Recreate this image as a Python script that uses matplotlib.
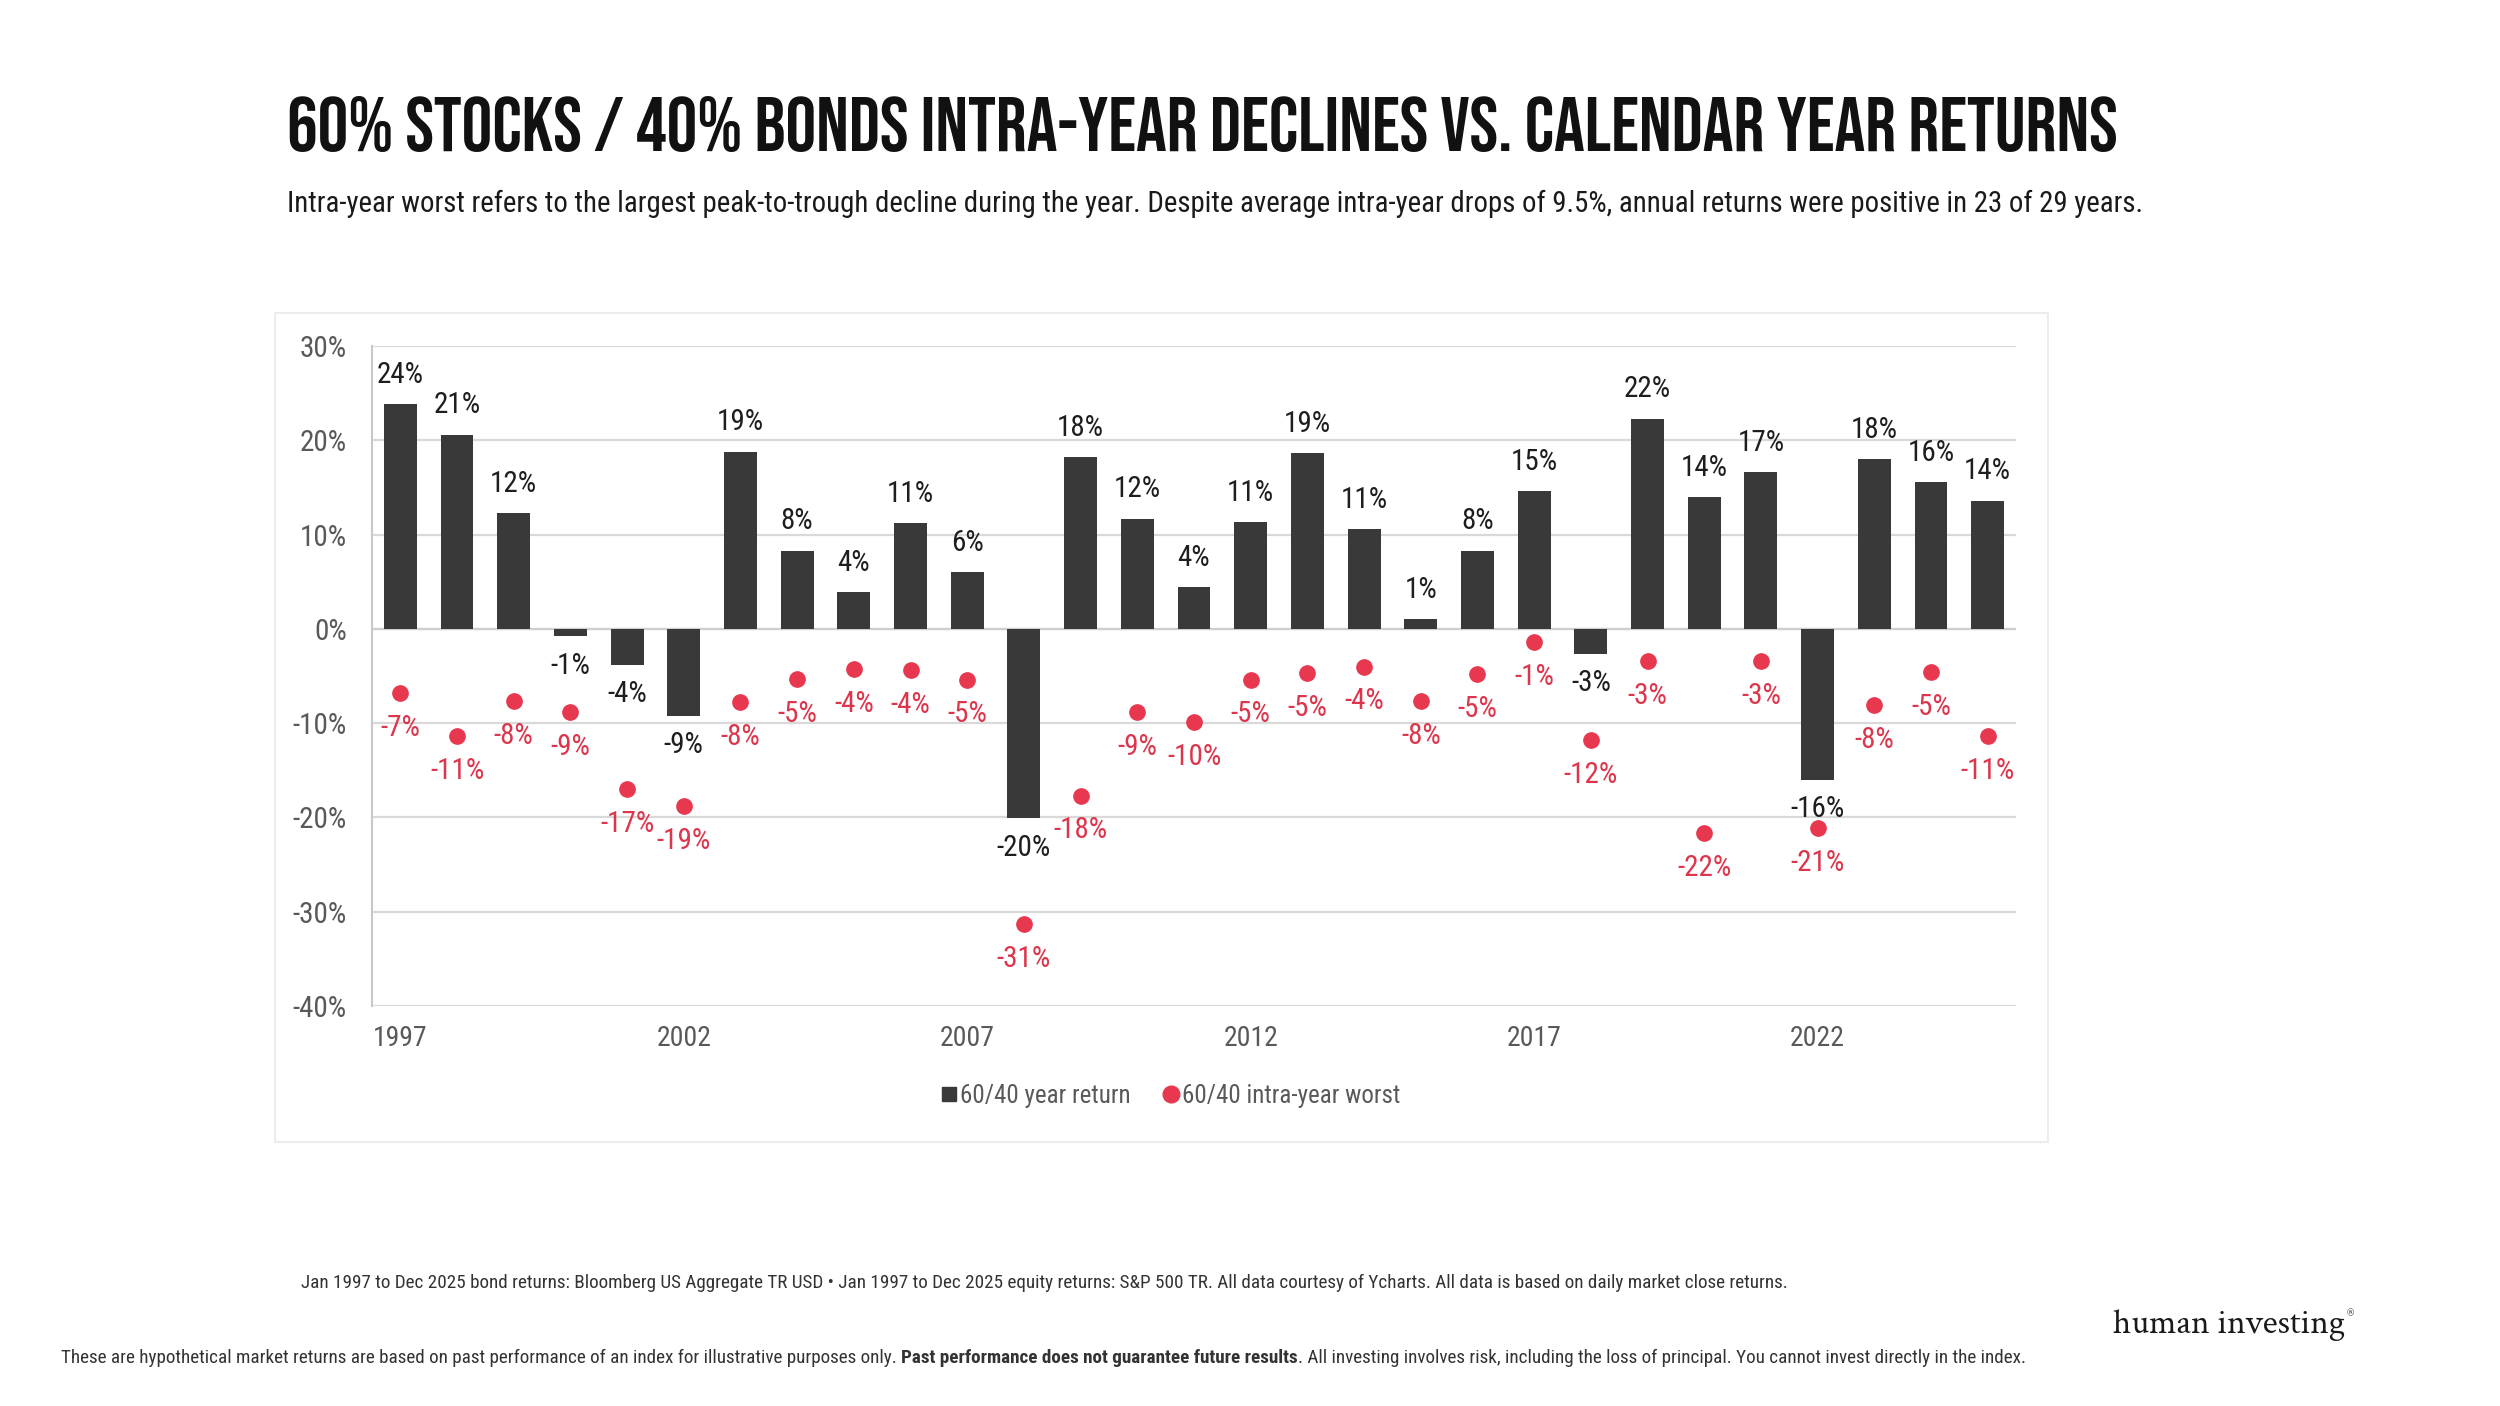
import matplotlib
matplotlib.use('Agg')
import matplotlib.pyplot as plt
from matplotlib.lines import Line2D
from matplotlib.patches import Rectangle

# data
years = list(range(1997, 2026))
year_return = [23.8, 20.6, 12.3, -0.8, -3.8, -9.2, 18.8, 8.3, 3.9, 11.2, 6.0, -20.1, 18.2,
               11.7, 4.4, 11.3, 18.6, 10.6, 1.0, 8.3, 14.6, -2.7, 22.3, 14.0, 16.6, -16.0,
               18.0, 15.6, 13.6]
intra_worst = [-6.8, -11.4, -7.7, -8.8, -17.0, -18.8, -7.8, -5.3, -4.3, -4.4, -5.4, -31.3, -17.7,
               -8.8, -9.9, -5.4, -4.7, -4.0, -7.7, -4.8, -1.4, -11.8, -3.4, -21.7, -3.4, -21.1,
               -8.1, -4.6, -11.4]
tick_years = [1997, 2002, 2007, 2012, 2017, 2022]
y_ticks = [-40, -30, -20, -10, 0, 10, 20, 30]

BAR = '#393939'
RED = '#e8384f'
RED_TXT = '#dc354c'
GRID = '#d9d9d9'
TICK = '#595959'

TITLE_FONT = ['Bebas Neue', 'DejaVu Sans']
BODY_FONT = ['Roboto Condensed', 'PT Sans Narrow', 'DejaVu Sans']
LOGO_FONT = ['Crimson Text', 'DejaVu Serif']

W, H = 2500, 1406
fig = plt.figure(figsize=(25, 14.06), dpi=100)


def fx(px):
    return px / W


def fy(py):
    return 1 - py / H


# card behind the chart
card = Rectangle((fx(275), fy(1142)), fx(2048) - fx(275), fy(313) - fy(1142),
                 transform=fig.transFigure, facecolor='none', edgecolor='#ececec', lw=1.5, zorder=-1)
fig.patches.append(card)

ax = fig.add_axes([fx(372), fy(1006), fx(2016) - fx(372), fy(346) - fy(1006)])
ax.patch.set_alpha(0)
x = list(range(len(years)))

ax.bar(x, year_return, width=0.58, color=BAR, zorder=3)
ax.plot(x, intra_worst, 'o', color=RED, ms=11, zorder=4)

for i, v in enumerate(year_return):
    off = 21 if v >= 0 else -21
    ax.annotate(f"{round(v):d}%", (i, v), xytext=(0, off), textcoords='offset points',
                ha='center', va='center', fontsize=21, color='#1e1e1e', family=BODY_FONT, zorder=5)
for i, v in enumerate(intra_worst):
    ax.annotate(f"{round(v):d}%", (i, v), xytext=(0, -25), textcoords='offset points',
                ha='center', va='center', fontsize=21, color=RED_TXT, family=BODY_FONT, zorder=5)

ax.set_xlim(-0.5, len(years) - 0.5)
ax.set_ylim(-40, 30)
ax.set_yticks(y_ticks)
ax.set_yticklabels([f"{t}%" for t in y_ticks])
ax.set_xticks([years.index(t) for t in tick_years])
ax.set_xticklabels([str(t) for t in tick_years])
ax.tick_params(axis='y', length=0, pad=18, labelsize=21, labelcolor=TICK)
ax.tick_params(axis='x', length=0, pad=14, labelsize=20, labelcolor=TICK)
for lab in ax.get_xticklabels() + ax.get_yticklabels():
    lab.set_family(BODY_FONT)
ax.grid(axis='y', color=GRID, lw=1.6, zorder=0)
ax.set_axisbelow(True)
for s in ['top', 'right', 'bottom']:
    ax.spines[s].set_visible(False)
ax.spines['left'].set_color('#c8c8c8')
ax.spines['left'].set_linewidth(1.5)
ax.axhline(0, color='#cfcfcf', lw=1.6, zorder=2)

handles = [Line2D([], [], marker='s', ls='', color=BAR, ms=10, label='60/40 year return'),
           Line2D([], [], marker='o', ls='', color=RED, ms=12, label='60/40 intra-year worst')]
fig.legend(handles=handles, loc='center', bbox_to_anchor=(fx(1170), fy(1096)), ncol=2, frameon=False,
           handletextpad=0.05, columnspacing=1.2, handlelength=0.8,
           prop={'family': BODY_FONT, 'size': 18}, labelcolor=TICK)

# texts
title = fig.text(fx(287), fy(151), "60% STOCKS / 40% BONDS INTRA-YEAR DECLINES VS. CALENDAR YEAR RETURNS",
                 fontsize=80, family=TITLE_FONT, color='#111111', va='baseline')
sub = fig.text(fx(287), fy(212), "Intra-year worst refers to the largest peak-to-trough decline during the year. "
               "Despite average intra-year drops of 9.5%, annual returns were positive in 23 of 29 years.",
               fontsize=20, family=BODY_FONT, color='#1a1a1a', va='baseline')
foot = fig.text(fx(301), fy(1288), "Jan 1997 to Dec 2025 bond returns: Bloomberg US Aggregate TR USD \u2022 "
                "Jan 1997 to Dec 2025 equity returns: S&P 500 TR. All data courtesy of Ycharts. "
                "All data is based on daily market close returns.",
                fontsize=13, family=BODY_FONT, color='#333333', va='baseline')
logo = fig.text(fx(2113), fy(1333), "human investing", fontsize=24, family=LOGO_FONT,
                color='#1a1a1a', va='baseline')
reg = fig.text(fx(2347), fy(1318), "\u00ae", fontsize=9, family=LOGO_FONT, color='#1a1a1a', va='baseline')

d_parts = [("These are hypothetical market returns are based on past performance of an index for illustrative "
            "purposes only. ", 'normal'),
           ("Past performance does not guarantee future results", 'bold'),
           (". All investing involves risk, including the loss of principal. You cannot invest directly in the index.",
            'normal')]
d_texts = [fig.text(fx(61), fy(1363), s, fontsize=13, family=BODY_FONT, weight=w, color='#333333',
                    va='baseline') for s, w in d_parts]

fig.canvas.draw()
r = fig.canvas.get_renderer()


def fit(t, target_px):
    bb = t.get_window_extent(r)
    t.set_fontsize(t.get_fontsize() * target_px / bb.width)


fit(title, (2134 - 287) * 0.991)
fit(sub, (2167 - 287) * 0.987)
fit(foot, (1804 - 301) * 0.987)
fit(logo, 2345 - 2113)

# disclaimer: fit the whole run, then lay the pieces side by side
total = sum(t.get_window_extent(r).width for t in d_texts)
scale = (2043 - 61) * 0.988 / total
for t in d_texts:
    t.set_fontsize(t.get_fontsize() * scale)
fig.canvas.draw()
xpos = 61
for t in d_texts:
    t.set_x(fx(xpos))
    xpos += t.get_window_extent(r).width

fig.savefig('out.png', facecolor='white')
